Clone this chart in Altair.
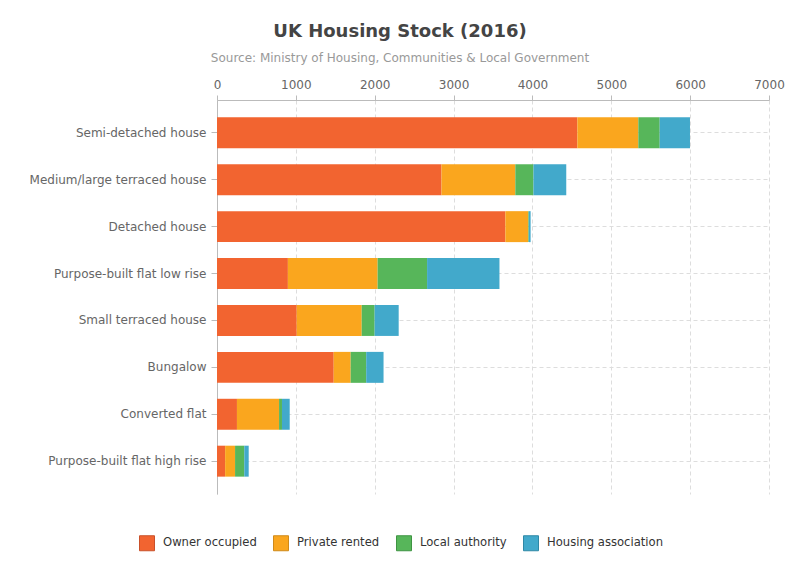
import altair as alt
import pandas as pd

categories = [
    "Semi-detached house",
    "Medium/large terraced house",
    "Detached house",
    "Purpose-built flat low rise",
    "Small terraced house",
    "Bungalow",
    "Converted flat",
    "Purpose-built flat high rise",
]
tenures = ["Owner occupied", "Private rented", "Local authority", "Housing association"]
owner_occupied = [4570, 2847, 3657, 899, 1011, 1480, 253, 103]
private_rented = [773, 936, 290, 1138, 824, 215, 534, 126]
local_authority = [271, 230, 8, 627, 164, 197, 37, 117]
housing_association = [384, 416, 22, 918, 305, 220, 98, 56]

fills = ["#f26430", "#faa61e", "#57b65a", "#42a9cb"]
strokes = ["#c9502a", "#cf8a1a", "#3f9443", "#2f88a6"]

series = [owner_occupied, private_rented, local_authority, housing_association]
rows = []
for t_i, t in enumerate(tenures):
    for c_i, c in enumerate(categories):
        rows.append({"category": c, "tenure": t, "value": series[t_i][c_i], "order": t_i})
df = pd.DataFrame(rows)

FONT = "DejaVu Sans"

legend_opts = dict(
    title=None,
    orient="none",
    direction="horizontal",
    legendX=-78,
    legendY=435,
    symbolType="square",
    symbolSize=225,
    symbolStrokeWidth=1,
    labelFont=FONT,
    labelFontSize=11.6,
    labelColor="#333333",
    labelOffset=8,
    columnPadding=14,
)

chart = (
    alt.Chart(df)
    .mark_bar(strokeWidth=0)
    .encode(
        y=alt.Y(
            "category:N",
            sort=categories,
            title=None,
            scale=alt.Scale(paddingInner=0.34, paddingOuter=0.37),
            axis=alt.Axis(
                labelFont=FONT,
                labelFontSize=12,
                labelColor="#666666",
                labelPadding=5,
                tickSize=6,
                tickColor="#bbbbbb",
                domainColor="#bbbbbb",
                grid=True,
                gridColor="#dddddd",
                gridDash=[4, 3],
                labelLimit=300,
            ),
        ),
        x=alt.X(
            "value:Q",
            stack="zero",
            title=None,
            scale=alt.Scale(domain=[0, 7000], nice=False),
            axis=alt.Axis(
                orient="top",
                values=[0, 1000, 2000, 3000, 4000, 5000, 6000, 7000],
                format="d",
                labelFont=FONT,
                labelFontSize=12,
                labelColor="#666666",
                labelPadding=4,
                tickSize=5,
                tickColor="#bbbbbb",
                domainColor="#bbbbbb",
                grid=True,
                gridColor="#dddddd",
                gridDash=[4, 3],
                labelFlush=False,
            ),
        ),
        color=alt.Color(
            "tenure:N",
            sort=tenures,
            scale=alt.Scale(domain=tenures, range=fills),
            legend=alt.Legend(**legend_opts),
        ),
        stroke=alt.Stroke(
            "tenure:N",
            sort=tenures,
            scale=alt.Scale(domain=tenures, range=strokes),
            legend=alt.Legend(**legend_opts),
        ),
        order=alt.Order("order:Q"),
    )
    .properties(
        width=552,
        height=394,
        autosize=alt.AutoSizeParams(type="none"),
        padding={"left": 209, "top": 92, "right": 23, "bottom": 68},
        title=alt.TitleParams(
            text="UK Housing Stock (2016)",
            subtitle="Source: Ministry of Housing, Communities & Local Government",
            font=FONT,
            fontSize=18,
            fontWeight="bold",
            color="#444444",
            subtitleFont=FONT,
            subtitleFontSize=12,
            subtitleColor="#999999",
            subtitlePadding=12,
            anchor="middle",
            frame="group",
            dx=-93,
            offset=14,
        ),
    )
    .configure_view(stroke=None)
)

chart.save("out.html", embed_options={"renderer": "svg", "actions": False})
